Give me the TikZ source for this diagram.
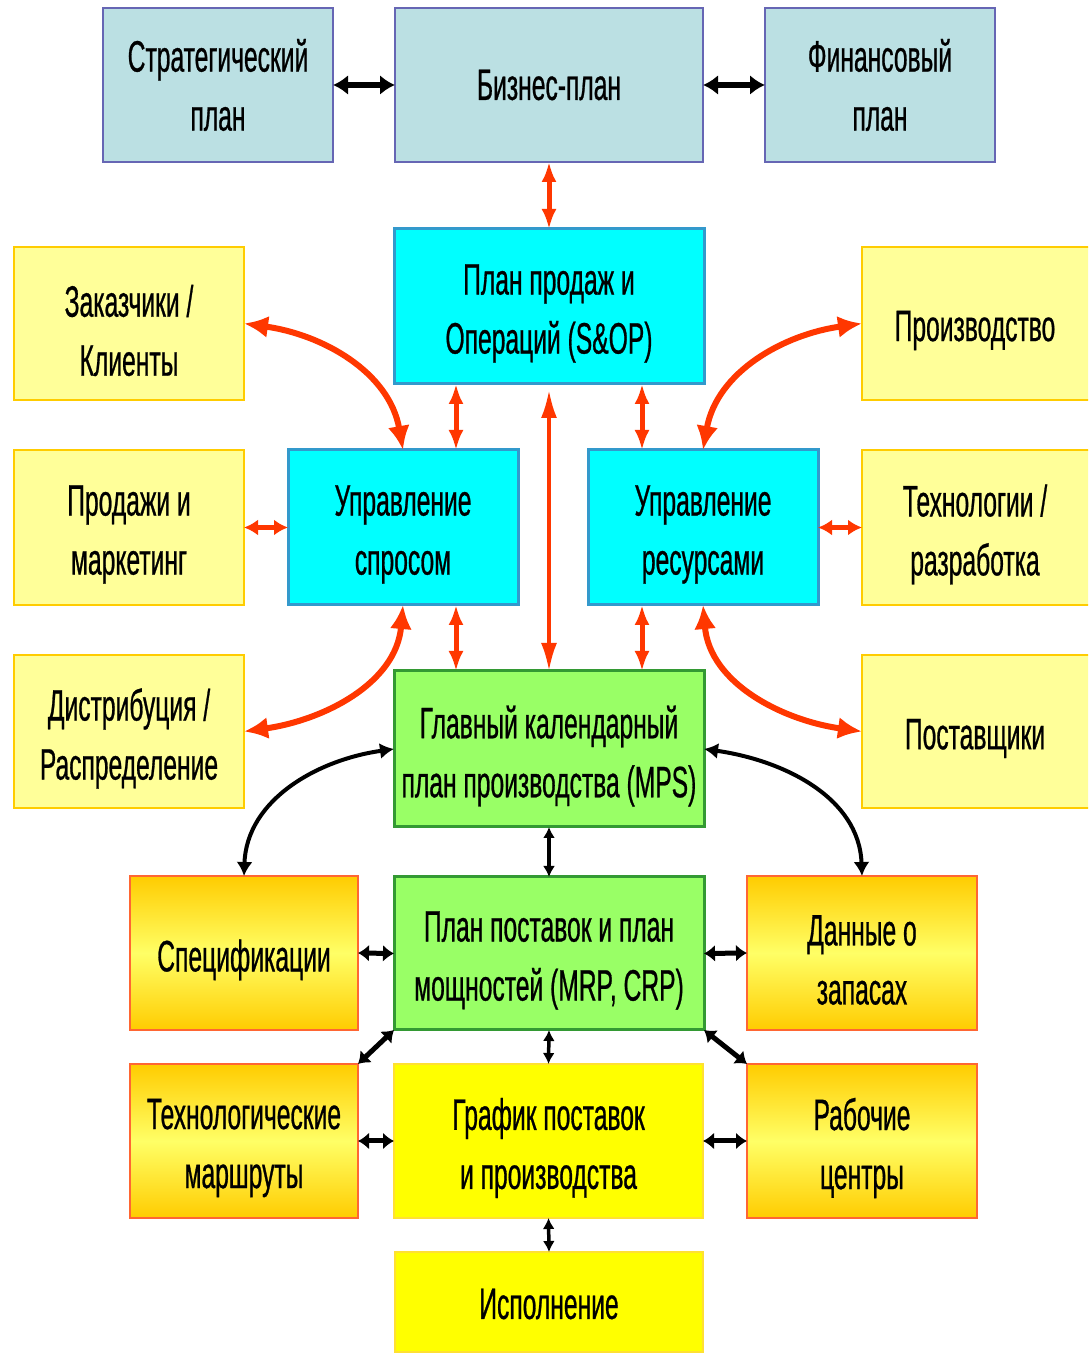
\documentclass[tikz,border=0pt]{standalone}
\usepackage{fontspec}
\setmainfont{Liberation Sans}[FakeStretch=0.56,FakeBold=0.6]
\usetikzlibrary{arrows.meta,calc}

\definecolor{topfill}{RGB}{187,224,227}
\definecolor{topline}{RGB}{102,102,180}
\definecolor{cyanfill}{RGB}{0,255,255}
\definecolor{cyanline}{RGB}{51,153,204}
\definecolor{paleyellow}{RGB}{255,255,153}
\definecolor{paleline}{RGB}{255,204,0}
\definecolor{greenfill}{RGB}{153,255,102}
\definecolor{greenline}{RGB}{51,153,51}
\definecolor{orangeedge}{RGB}{255,204,0}
\definecolor{orangemid}{RGB}{255,255,102}
\definecolor{orangeline}{RGB}{255,102,51}
\definecolor{brightyellow}{RGB}{255,255,0}
\definecolor{brightline}{RGB}{255,224,51}
\definecolor{arrowred}{RGB}{255,55,0}

\tikzset{
  boxtext/.style={align=center, inner sep=0pt,
    font=\fontsize{44}{59}\selectfont, text=black, yshift=-7pt},
  toptext/.style={boxtext, yshift=7pt},
  box/.style={rectangle, inner sep=0pt, outer sep=0pt,
    minimum width=230pt, minimum height=154pt},
  planbox/.style={box, fill=topfill, draw=topline, line width=2pt},
  coordbox/.style={box, fill=cyanfill, draw=cyanline, line width=3pt},
  partnerbox/.style={box, fill=paleyellow, draw=paleline, line width=1.5pt},
  schedbox/.style={box, fill=greenfill, draw=greenline, line width=3pt},
  databox/.style={box, top color=orangeedge, bottom color=orangeedge,
    middle color=orangemid, draw=orangeline, line width=2pt},
  execbox/.style={box, fill=brightyellow, draw=brightline, line width=1.5pt},
  redlink/.style={draw=arrowred, line width=5pt,
    {Latex[length=20pt,width=15pt]}-{Latex[length=20pt,width=15pt]}},
  redside/.style={draw=arrowred, line width=5pt,
    {Latex[length=14pt,width=16pt]}-{Latex[length=14pt,width=16pt]}},
  redcurve/.style={draw=arrowred, line width=6pt,
    {Latex[length=24pt,width=22pt]}-{Latex[length=24pt,width=22pt]}},
  redlong/.style={draw=arrowred, line width=3.5pt,
    {Latex[length=28pt,width=16pt]}-{Latex[length=28pt,width=16pt]}},
  blacklink/.style={draw=black, line width=6pt,
    {Latex[length=15pt,width=20pt]}-{Latex[length=15pt,width=20pt]}},
  blackside/.style={draw=black, line width=5pt,
    {Latex[length=11pt,width=17pt]}-{Latex[length=11pt,width=17pt]}},
  blacksmall/.style={draw=black, line width=3.5pt,
    {Latex[length=11pt,width=12pt]}-{Latex[length=11pt,width=12pt]}},
  blackcurve/.style={draw=black, line width=4pt,
    {Latex[length=14pt,width=16pt]}-{Latex[length=14pt,width=16pt]}},
}

\begin{document}
\begin{tikzpicture}[x=1pt,y=1pt]
\useasboundingbox (0,0) rectangle (1088,1353);
\clip (0,0) rectangle (1088,1353);
\fill[white] (0,0) rectangle (1088,1353);

% planning level
\node[planbox, label={[toptext]center:{Стратегический\\план}}] (strat) at (218,1268) {};
\node[planbox, minimum width=308pt, label={[toptext]center:{Бизнес-план}}] (biz) at (549,1268) {};
\node[planbox, label={[toptext]center:{Финансовый\\план}}] (fin) at (880,1268) {};

% sales and operations planning
\node[coordbox, minimum width=310pt, minimum height=155pt, label={[boxtext]center:{План продаж и\\Операций (S\&OP)}}] (sop) at (549,1046.5) {};
\node[coordbox, minimum height=155pt, label={[boxtext]center:{Управление\\спросом}}] (spros) at (403,825.5) {};
\node[coordbox, minimum height=155pt, label={[boxtext]center:{Управление\\ресурсами}}] (resurs) at (703,825.5) {};

% partners
\node[partnerbox, minimum height=153pt, label={[boxtext]center:{Заказчики /\\Клиенты}}] (zak) at (129,1029.5) {};
\node[partnerbox, minimum height=155pt, label={[boxtext]center:{Продажи и\\маркетинг}}] (prod) at (129,825.5) {};
\node[partnerbox, minimum height=153pt, label={[boxtext]center:{Дистрибуция /\\Распределение}}] (distr) at (129,621.5) {};
\node[partnerbox, minimum height=153pt, label={[boxtext, xshift=-2pt]center:{Производство}}] (proizv) at (977,1029.5) {};
\node[partnerbox, minimum height=155pt, label={[boxtext, xshift=-2pt]center:{Технологии /\\разработка}}] (tech) at (977,825.5) {};
\node[partnerbox, minimum height=153pt, label={[boxtext, xshift=-2pt]center:{Поставщики}}] (postav) at (977,621.5) {};

% master scheduling and materials planning
\node[schedbox, minimum width=310pt, minimum height=156pt, label={[boxtext]center:{Главный календарный\\план производства (MPS)}}] (mps) at (549,604) {};
\node[schedbox, minimum width=310pt, minimum height=153pt, label={[boxtext]center:{План поставок и план\\мощностей (MRP, CRP)}}] (mrp) at (549,399.5) {};

% master data
\node[databox, minimum width=228pt, label={[boxtext]center:{Спецификации}}] (spec) at (244,400) {};
\node[databox, label={[boxtext]center:{Данные о\\запасах}}] (dannye) at (862,400) {};
\node[databox, minimum width=228pt, label={[boxtext]center:{Технологические\\маршруты}}] (techmar) at (244,212) {};
\node[databox, label={[boxtext]center:{Рабочие\\центры}}] (rab) at (862,212) {};

% execution
\node[execbox, minimum width=309pt, label={[boxtext]center:{График поставок\\и производства}}] (grafik) at (548.5,212) {};
\node[execbox, minimum width=308pt, minimum height=100pt, label={[boxtext, yshift=5pt]center:{Исполнение}}] (ispoln) at (549,51) {};

% anchor points on the S&OP and MPS edges
\coordinate (sopL) at ($(sop.south west)!0.2!(sop.south east)$);
\coordinate (sopR) at ($(sop.south west)!0.8!(sop.south east)$);
\coordinate (mpsL) at ($(mps.north west)!0.2!(mps.north east)$);
\coordinate (mpsR) at ($(mps.north west)!0.8!(mps.north east)$);

% top level links
\draw[blacklink] (strat.east) -- (biz.west);
\draw[blacklink] (biz.east) -- (fin.west);
\draw[redlink] (biz.south) -- (sop.north);

% S&OP links
\draw[redlink] (sopL) -- (sopL |- spros.north);
\draw[redlink] (sopR) -- (sopR |- resurs.north);
\draw[redlong, shorten <=6pt] (sop.south) -- (mps.north);
\draw[redlink] (mpsL |- spros.south) -- (mpsL);
\draw[redlink] (mpsR |- resurs.south) -- (mpsR);
\draw[redside] (prod.east) -- (spros.west);
\draw[redside] (resurs.east) -- (tech.west);

% curved links to partners
\draw[redcurve] (zak.east) to[out=-8,in=100] (spros.north);
\draw[redcurve] (proizv.west) to[out=188,in=80] (resurs.north);
\draw[redcurve] (spros.south) to[out=-95,in=8] (distr.east);
\draw[redcurve] (resurs.south) to[out=-85,in=172] (postav.west);

% MPS to master data
\draw[blackcurve] (mps.west) to[out=188,in=88] (spec.north);
\draw[blackcurve] (mps.east) to[out=-8,in=92] (dannye.north);
\draw[blacksmall] (mps.south) -- (mrp.north);

% MRP links
\draw[blackside] (spec.east) -- (mrp.west);
\draw[blackside] (mrp.east) -- (dannye.west);
\draw[blackside] (mrp.south west) -- (techmar.north east);
\draw[blackside] (mrp.south east) -- (rab.north west);
\draw[blacksmall] (mrp.south) -- (grafik.north);

% schedule links
\draw[blackside] (techmar.east) -- (grafik.west);
\draw[blackside] (grafik.east) -- (rab.west);
\draw[blacksmall] (grafik.south) -- (ispoln.north);
\end{tikzpicture}
\end{document}
